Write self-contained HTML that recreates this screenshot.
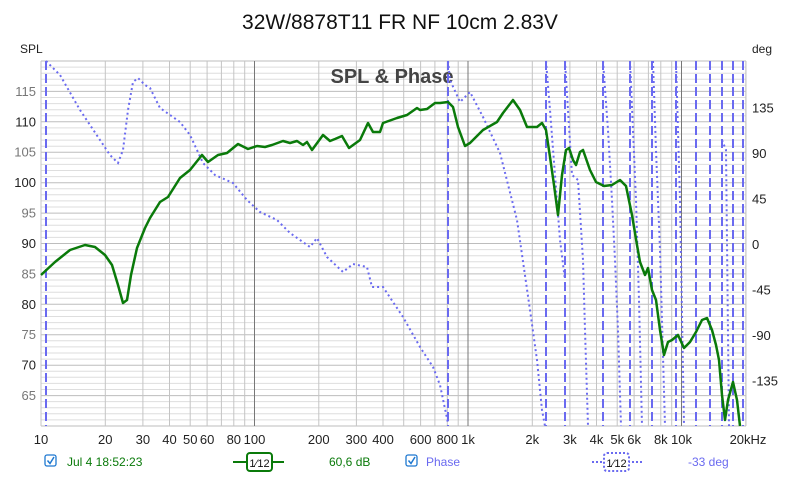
<!DOCTYPE html>
<html><head><meta charset="utf-8"><style>
body{margin:0;background:#fff;width:800px;height:473px;overflow:hidden;font-family:"Liberation Sans",sans-serif}
</style></head><body>
<svg id="s" width="800" height="473" xmlns="http://www.w3.org/2000/svg" font-family="Liberation Sans, sans-serif">
<rect width="800" height="473" fill="#fff"/>
<g id="grid"></g>
<text x="400" y="29" font-size="21" text-anchor="middle" fill="#111">32W/8878T11 FR NF 10cm 2.83V</text>
<text x="20" y="53" font-size="12" fill="#222">SPL</text>
<text x="752" y="53" font-size="12" fill="#222">deg</text>
<text x="392" y="83" font-size="20" font-weight="bold" text-anchor="middle" fill="#444">SPL &amp; Phase</text>
<g id="phase" fill="none" stroke="#6a6af0" stroke-width="2">
<polyline stroke-dasharray="2,3" points="46,61 60,75 80,110 100,140 110,155 118,163 123,150 128,110 133,82 138,78 145,85 150,88 160,108 170,115 180,122 190,135 203,163 215,175 233,183 247,200 260,212 277,220 290,233 300,240 310,247 317,238 327,257 343,272 353,264 367,267 372,287 383,287 403,317 420,347 433,367 440,385 448,423"/>
<polyline stroke-dasharray="2,3" points="448,61 450,80 460,102 470,92 483,117 500,153 517,220 530,310 537,360 542,410 545,426"/>
<polyline stroke-dasharray="2,3" points="546,61 550,110 555,175 560,240 565,280"/>
<polyline stroke-dasharray="2,3" points="565,61 568,110 572,175 578,180 583,260 585,330 588,426"/>
<polyline stroke-dasharray="2,3" points="603,61 608,130 612,200 615,260 618,330 621,426"/>
<polyline stroke-dasharray="2,3" points="630,61 633,130 636,200 639,300 642,426"/>
<polyline stroke-dasharray="2,3" points="653,61 656,150 660,250 665,426"/>
<polyline stroke-dasharray="2,3" points="676,61 680,200 684,426"/>
<polyline stroke-dasharray="2,3" points="722,140 726,150 729,426"/>
<g stroke-dasharray="9,4">
<line x1="46" y1="61" x2="46" y2="426"/><line x1="448" y1="61" x2="448" y2="426"/>
<line x1="546" y1="61" x2="546" y2="426"/><line x1="565" y1="61" x2="565" y2="426"/>
<line x1="603" y1="61" x2="603" y2="426"/><line x1="630" y1="61" x2="630" y2="426"/>
<line x1="652" y1="61" x2="652" y2="426"/><line x1="676" y1="61" x2="676" y2="426"/>
<line x1="696" y1="61" x2="696" y2="426"/><line x1="710" y1="61" x2="710" y2="426"/>
<line x1="722" y1="61" x2="722" y2="426"/><line x1="733" y1="61" x2="733" y2="426"/>
<line x1="743" y1="61" x2="743" y2="426"/></g>
</g>
<polyline fill="none" stroke="#0a7a0a" stroke-width="2.5" stroke-linejoin="round" points="41,275 55,262 70,250 85,245 95,247 105,255 112,265 118,285 123,303 127,300 131,275 137,248 145,228 150,218 160,202 168,197 180,178 190,170 202,155 208,162 218,155 227,153 238,144 248,149 257,146 265,147 272,145 283,141 290,143 297,141 303,145 307,142 312,150 323,135 330,141 335,139 342,136 349,148 360,140 368,123 373,132 380,132 383,123 397,118 407,115 417,108 420,110 427,109 435,103 440,103 448,102 453,107 458,127 465,146 470,143 483,130 497,122 503,113 513,100 520,110 527,127 537,127 542,123 546,130 550,157 554,185 558,215 562,175 566,150 569,148 573,160 576,165 580,152 583,150 590,170 596,182 604,186 612,185 620,180 626,186 632,215 637,245 640,262 645,275 648,268 652,290 656,300 660,330 664,355 668,342 672,340 678,335 684,348 690,342 696,332 702,320 707,318 712,330 716,345 719,360 722,395 725,420 728,400 733,382 737,400 740,426"/>
<g id="leg" font-size="12">
<rect x="45" y="455" width="11" height="11" rx="2" fill="#fff" stroke="#1e78d0" stroke-width="1.3"/>
<path d="M47.5,460.5 L50,463.5 L54,457" fill="none" stroke="#1e78d0" stroke-width="1.5"/>
<text x="67" y="466" fill="#0a7a0a">Jul 4 18:52:23</text>
<line x1="233" y1="462" x2="284" y2="462" stroke="#0a7a0a" stroke-width="2"/>
<rect x="247" y="453" width="25" height="18" rx="3" fill="#fff" stroke="#0a7a0a" stroke-width="2"/>
<text x="259.5" y="467" font-size="11" text-anchor="middle" fill="#111">1⁄12</text>
<text x="329" y="466" fill="#0a7a0a">60,6 dB</text>
<rect x="406" y="455" width="11" height="11" rx="2" fill="#fff" stroke="#1e78d0" stroke-width="1.3"/>
<path d="M408.5,460.5 L411,463.5 L415,457" fill="none" stroke="#1e78d0" stroke-width="1.5"/>
<text x="426" y="466" fill="#6a6af0">Phase</text>
<line x1="592" y1="462" x2="642" y2="462" stroke="#6a6af0" stroke-width="2" stroke-dasharray="2,2"/>
<rect x="604" y="453" width="25" height="18" rx="3" fill="#fff" stroke="#6a6af0" stroke-width="2" stroke-dasharray="2,2"/>
<text x="616.5" y="467" font-size="11" text-anchor="middle" fill="#111">1⁄12</text>
<text x="688" y="466" fill="#6a6af0">-33 deg</text>
</g>
</svg>
<script>
var g=document.getElementById('grid'),s='';
var L=41,R=746,T=61,B=426;
function X(f){return L+213.5*Math.log10(f/10);}
function Y(d){return T+(120-d)*6.083;}
for(var d=60;d<=120;d++){var y=Y(d).toFixed(1);var maj=d%5==0;s+='<line x1="'+L+'" x2="'+R+'" y1="'+y+'" y2="'+y+'" stroke="'+(maj?'#bdbdbd':'#dedede')+'" stroke-width="1"/>';
if(maj&&d>60&&d<120)s+='<text x="36" y="'+(Y(d)+4.5)+'" font-size="13" text-anchor="end" fill="'+(d%10==0?'#222':'#777')+'">'+d+'</text>';}
[10,100,1000,10000].forEach(function(dec){for(var k=1;k<10;k++){var f=dec*k;if(f>20000)return;var x=X(f).toFixed(1);s+='<line x1="'+x+'" x2="'+x+'" y1="'+T+'" y2="'+B+'" stroke="'+(k==1&&dec>10?'#777':'#c4c4c4')+'" stroke-width="1"/>';}});
s+='<line x1="'+R+'" x2="'+R+'" y1="'+T+'" y2="'+B+'" stroke="#c4c4c4"/>';
var lab=[[10,'10'],[20,'20'],[30,'30'],[40,'40'],[50,'50'],[60,'60'],[80,'80'],[100,'100'],[200,'200'],[300,'300'],[400,'400'],[600,'600'],[800,'800'],[1000,'1k'],[2000,'2k'],[3000,'3k'],[4000,'4k'],[5000,'5k'],[6000,'6k'],[8000,'8k'],[10000,'10k']];
lab.forEach(function(a){s+='<text x="'+X(a[0])+'" y="444" font-size="13" text-anchor="middle" fill="#222">'+a[1]+'</text>';});
s+='<text x="748" y="444" font-size="13" text-anchor="middle" fill="#222">20kHz</text>';
[135,90,45,0,-45,-90,-135].forEach(function(p){var y=244.5-p*1.011;s+='<text x="752" y="'+(y+4.5)+'" font-size="13" fill="#222">'+p+'</text>';});
g.innerHTML=s;
</script>
</body></html>
